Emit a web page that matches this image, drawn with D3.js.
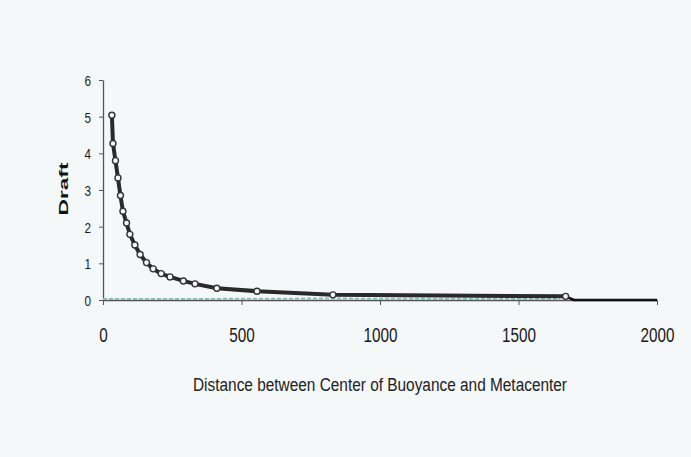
<!DOCTYPE html>
<html><head><meta charset="utf-8">
<script src="https://cdn.jsdelivr.net/npm/d3@7"></script>
<style>
html,body{margin:0;padding:0;background:#f5f8f8;}
svg{display:block;}
</style></head>
<body>
<svg id="c" width="691" height="457"></svg>
<script>
// Data
const distance = [32, 36, 45, 54, 63, 72, 85, 97, 115, 134, 157, 181, 210, 242, 290, 332, 411, 556, 830, 1670];
const draft    = [5.04, 4.27, 3.8, 3.33, 2.85, 2.42, 2.1, 1.79, 1.5, 1.24, 1.02, 0.85, 0.72, 0.63, 0.52, 0.44, 0.32, 0.24, 0.14, 0.1];
const tailDistance = [1670, 1700, 2000];
const tailDraft    = [0.1, 0.0, 0.0];
const baseDistance = [0, 400, 800, 1200, 1650];
const baseDraft    = [0.03, 0.03, 0.04, 0.03, 0.03];
const xTicks = [0, 500, 1000, 1500, 2000];
const yTicks = [0, 1, 2, 3, 4, 5, 6];
const xTitle = "Distance between Center of Buoyance and Metacenter";
const yTitle = "Draft";

const svg = d3.select("#c");
const x = d3.scaleLinear().domain([0, 2000]).range([103, 657]);
const y = d3.scaleLinear().domain([0, 6]).range([300, 80]);
const font = "'Liberation Sans',Arial,sans-serif";

// axes
const xa = svg.append("g").attr("transform", "translate(0,300)")
  .call(d3.axisBottom(x).tickValues(xTicks).tickFormat(d3.format("d")).tickSize(5).tickSizeOuter(0));
const ya = svg.append("g").attr("transform", "translate(103,0)")
  .call(d3.axisLeft(y).tickValues(yTicks).tickFormat(d3.format("d")).tickSize(4).tickSizeOuter(0));
[xa, ya].forEach(g => {
  g.select(".domain").attr("stroke", "#555").attr("stroke-width", 1.3);
  g.selectAll(".tick line").attr("stroke", "#555");
  g.selectAll("text").attr("fill", "#1a1a1a").style("font-family", font);
});
xa.selectAll("text").style("font-size", "20px").attr("y", 42).attr("dy", 0)
  .attr("textLength", d => String(d).length * 8.5).attr("lengthAdjust", "spacingAndGlyphs");
ya.selectAll("text").style("font-size", "15px").attr("x", -12).attr("dy", "0.36em")
  .attr("textLength", 6.5).attr("lengthAdjust", "spacingAndGlyphs");

// series
const line = d3.line().x(d => x(d[0])).y(d => y(d[1]));
const base = baseDistance.map((d, i) => [d, baseDraft[i]]);
svg.append("path").attr("d", line(base)).attr("fill", "none")
  .attr("stroke", "#86bdb6").attr("stroke-width", 2).attr("stroke-dasharray", "4,2");

const tail = tailDistance.map((d, i) => [d, tailDraft[i]]);
svg.append("path").attr("d", line(tail)).attr("fill", "none")
  .attr("stroke", "#111").attr("stroke-width", 2.5);

const main = distance.map((d, i) => [d, draft[i]]);
svg.append("path").attr("d", line(main)).attr("fill", "none")
  .attr("stroke", "#2a2a2a").attr("stroke-width", 4);
svg.selectAll("circle.m").data(main).enter().append("circle")
  .attr("class", "m").attr("cx", d => x(d[0])).attr("cy", d => y(d[1])).attr("r", 3)
  .attr("fill", "#f5f8f8").attr("stroke", "#333").attr("stroke-width", 1.4);

// titles
svg.append("text").attr("x", 380).attr("y", 391).attr("text-anchor", "middle")
  .attr("textLength", 374).attr("lengthAdjust", "spacingAndGlyphs")
  .style("font-family", font).style("font-size", "18px").attr("fill", "#222").text(xTitle);
svg.append("text").attr("transform", "translate(68,189) rotate(-90)").attr("text-anchor", "middle")
  .attr("textLength", 53).attr("lengthAdjust", "spacingAndGlyphs")
  .style("font-family", font).style("font-size", "12px").style("font-weight", "bold")
  .attr("fill", "#111").text(yTitle);
</script>
</body></html>
